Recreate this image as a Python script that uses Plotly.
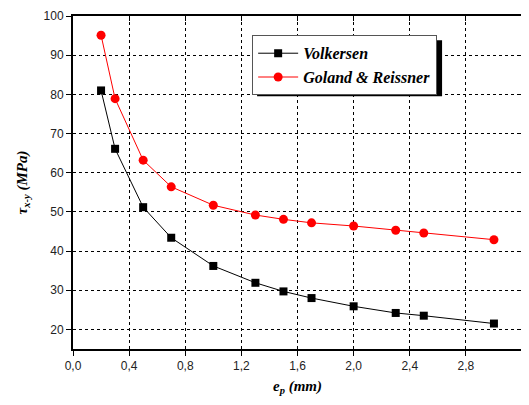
import plotly.graph_objects as go

ep = [0.2, 0.3, 0.5, 0.7, 1.0, 1.3, 1.5, 1.7, 2.0, 2.3, 2.5, 3.0]
volkersen = [81.0, 66.1, 51.2, 43.4, 36.2, 31.9, 29.7, 28.0, 25.9, 24.2, 23.5, 21.5]
goland = [95.1, 78.9, 63.2, 56.4, 51.7, 49.2, 48.1, 47.2, 46.4, 45.3, 44.6, 42.9]
x_ticks = [0.0, 0.4, 0.8, 1.2, 1.6, 2.0, 2.4, 2.8, 3.2]
y_ticks = [20, 30, 40, 50, 60, 70, 80, 90, 100]

serif = "Liberation Serif"
sans = "Liberation Sans"

fig = go.Figure()
fig.add_trace(go.Scatter(x=ep, y=volkersen, mode="lines+markers", name="Volkersen",
                         line=dict(color="black", width=1),
                         marker=dict(symbol="square", size=8, color="black")))
fig.add_trace(go.Scatter(x=ep, y=goland, mode="lines+markers", name="Goland & Reissner",
                         line=dict(color="#ff0000", width=1),
                         marker=dict(symbol="circle", size=9, color="#ff0000")))
# invisible helper trace so the top/right axes (inside ticks) are drawn
fig.add_trace(go.Scatter(x=ep, y=goland, xaxis="x2", yaxis="y2", mode="markers",
                         marker=dict(opacity=0), showlegend=False, hoverinfo="skip"))

axis_common = dict(showline=True, linecolor="black", linewidth=2, mirror=True,
                   gridcolor="black", gridwidth=1, griddash="dot", zeroline=False,
                   tickfont=dict(family=sans, size=12, color="#222"),
                   ticks="outside", ticklen=5, tickwidth=1, tickcolor="black",
                   automargin=False)
mirror_common = dict(showticklabels=False, ticks="inside", ticklen=5, tickwidth=1,
                     tickcolor="black", showline=True, linecolor="black", linewidth=2,
                     showgrid=False, zeroline=False, automargin=False)

title_font = dict(family=serif, size=15, color="black", weight="bold", style="italic")

fig.update_layout(
    width=521, height=397,
    margin=dict(l=65, r=7, t=8, b=56),
    paper_bgcolor="white", plot_bgcolor="white",
    separators=", ",
    showlegend=True,
    xaxis=dict(range=[0, 3.2], tickvals=x_ticks, tickformat=".1f",
               title=dict(text="e<sub>p</sub> (mm)", font=title_font, standoff=8),
               **axis_common),
    yaxis=dict(range=[15, 100], tickvals=y_ticks,
               title=dict(text="τ<sub>x-y</sub> (MPa)", font=title_font, standoff=12),
               **axis_common),
    xaxis2=dict(range=[0, 3.2], tickvals=x_ticks, overlaying="x", side="top",
                anchor="y", **mirror_common),
    yaxis2=dict(range=[15, 100], tickvals=y_ticks, overlaying="y", side="right",
                anchor="x", **mirror_common),
    legend=dict(x=0.399, y=0.942, xanchor="left", yanchor="top",
                bgcolor="white", bordercolor="#555", borderwidth=1,
                font=dict(family=serif, size=16, color="black", weight="bold", style="italic"),
                itemwidth=40, tracegroupgap=0),
)

# legend drop shadow
fig.add_shape(type="rect", xref="paper", yref="paper",
              x0=0.41, x1=0.822, y0=0.759, y1=0.927,
              fillcolor="black", line=dict(width=0), layer="above")

fig.write_html("out.html")
